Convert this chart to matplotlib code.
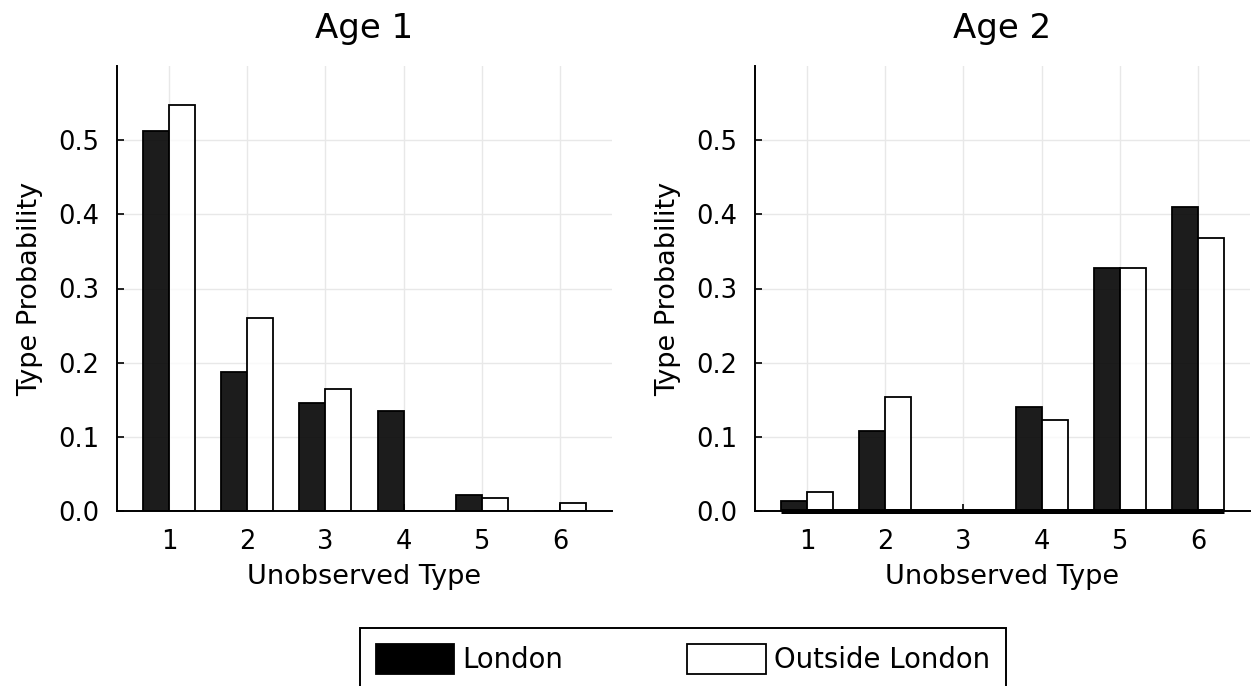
import matplotlib
matplotlib.use("Agg")
import matplotlib.pyplot as plt
import numpy as np

types = [1, 2, 3, 4, 5, 6]
age1_london = [0.512, 0.187, 0.145, 0.135, 0.022, 0.0]
age1_outside = [0.547, 0.260, 0.165, 0.0, 0.017, 0.011]
age2_london = [0.014, 0.108, 0.0, 0.140, 0.328, 0.410]
age2_outside = [0.026, 0.154, 0.0, 0.123, 0.328, 0.368]
titles = ["Age 1", "Age 2"]
yticks = [0.0, 0.1, 0.2, 0.3, 0.4, 0.5]
series_names = ["London", "Outside London"]

plt.rcParams['font.family'] = ['DejaVu Sans']

fig = plt.figure(figsize=(12.54, 6.86), dpi=100)
W, H = 1254, 686
ax1 = fig.add_axes([117 / W, 1 - 511 / H, 495 / W, 445 / H])
ax2 = fig.add_axes([755 / W, 1 - 511 / H, 495 / W, 445 / H])

bw = 1 / 3
x = np.array(types, dtype=float)
handles = None
for i, (ax, lon, out) in enumerate([(ax1, age1_london, age1_outside),
                                     (ax2, age2_london, age2_outside)]):
    b1 = ax.bar(x - bw / 2, lon, width=bw, facecolor=(0, 0, 0, 0.89),
                edgecolor='black', linewidth=1.3, zorder=2, label=series_names[0])
    b2 = ax.bar(x + bw / 2, out, width=bw, facecolor=(1, 1, 1, 0.75),
                edgecolor='black', linewidth=1.3, zorder=2, label=series_names[1])
    if handles is None:
        handles = [b1, b2]
    if i == 1:
        ax.hlines(0, x[0] - bw, x[-1] + bw, color='black', linewidth=3.6,
                  zorder=3, clip_on=False)
    ax.set_xlim(1 / 3, 6 + 2 / 3)
    ax.set_ylim(0, 0.6)
    ax.set_xticks(types)
    ax.set_yticks(yticks)
    ax.set_yticklabels([f"{v:.1f}" for v in yticks])
    ax.grid(True, color='#e8e8e8', linewidth=1.0, zorder=0)
    ax.set_axisbelow(True)
    for s in ['top', 'right']:
        ax.spines[s].set_visible(False)
    for s in ['left', 'bottom']:
        ax.spines[s].set_linewidth(1.4)
        ax.spines[s].set_color('black')
    ax.tick_params(axis='both', direction='in', length=5, width=1.2,
                   labelsize=18.5, pad=13, color='black')
    ax.set_xlabel("Unobserved Type", fontsize=19.5, labelpad=6.5)
    ax.set_ylabel("Type Probability", fontsize=19.5, labelpad=10.5)
    ax.set_title(titles[i], fontsize=24.5, pad=20.5)

leg = fig.legend(handles=handles, labels=series_names, loc='upper center',
                 bbox_to_anchor=(683 / W, 1 - 628 / H), ncol=2, fontsize=19.8,
                 handlelength=2.85, handleheight=1.3, handletextpad=0.3,
                 columnspacing=4.5, borderpad=0.58, borderaxespad=0,
                 fancybox=False, framealpha=1, edgecolor='black')
leg.get_frame().set_linewidth(1.4)
leg.legend_handles[0].set_facecolor('black')

fig.savefig("out.png", dpi=100)
